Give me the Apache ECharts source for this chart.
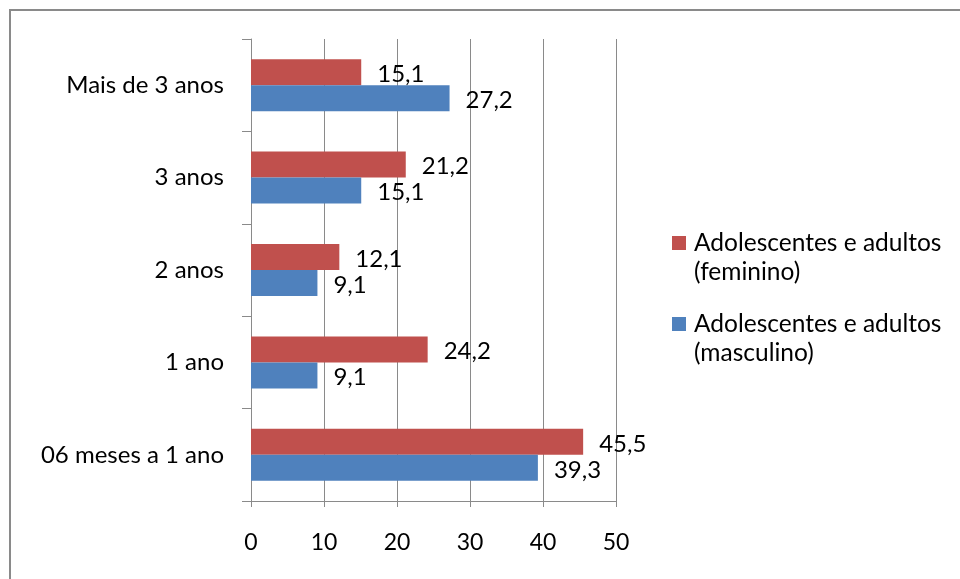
<!DOCTYPE html>
<html>
<head>
<meta charset="utf-8">
<title>Tempo por faixa</title>
<script src="https://cdn.jsdelivr.net/npm/echarts@6/dist/echarts.min.js"></script>
<style>
  html, body { margin: 0; padding: 0; background: #fff; }
  #chart { width: 960px; height: 579px; }
</style>
</head>
<body>
<div id="chart"></div>
<script>
// Categories, bottom to top
const categories = ['06 meses a 1 ano', '1 ano', '2 anos', '3 anos', 'Mais de 3 anos'];
const seriesNames = ['Adolescentes e adultos (feminino)', 'Adolescentes e adultos (masculino)'];
const feminino = [45.5, 24.2, 12.1, 21.2, 15.1];
const masculino = [39.3, 9.1, 9.1, 15.1, 27.2];
const xTicks = [0, 10, 20, 30, 40, 50];

const FONT = 'Lato';
const GRID_COLOR = '#8a8a8a';

const chart = echarts.init(document.getElementById('chart'), null, { renderer: 'canvas' });

const decimalComma = v => String(v).replace('.', ',');

function legendBlock(name, top) {
  return {
    data: [name],
    left: 672,
    top: top,
    orient: 'vertical',
    padding: 0,
    itemWidth: 14,
    itemHeight: 14,
    icon: 'rect',
    // blank first line keeps the swatch level with the first text line
    formatter: n => '\n' + n.replace(' (', '\n('),
    textStyle: {
      fontFamily: FONT,
      fontSize: 24.5,
      lineHeight: 29,
      color: '#000',
      padding: [0, 0, 0, 3]
    }
  };
}

const labelCfg = {
  show: true,
  position: 'right',
  distance: 16,
  offset: [0, 2],
  fontFamily: FONT,
  fontSize: 24,
  color: '#000',
  formatter: p => decimalComma(p.value)
};

chart.setOption({
  animation: false,
  backgroundColor: '#fff',
  graphic: [{
    type: 'rect',
    shape: { x: 10, y: 10, width: 1000, height: 1000 },
    style: { fill: 'none', stroke: GRID_COLOR, lineWidth: 2 },
    silent: true
  }],
  legend: [
    legendBlock(seriesNames[0], 199.5),
    legendBlock(seriesNames[1], 280.5)
  ],
  grid: { left: 251, top: 39, right: 344, bottom: 78 },
  xAxis: {
    type: 'value',
    min: xTicks[0],
    max: xTicks[xTicks.length - 1],
    interval: xTicks[1] - xTicks[0],
    axisLine: { show: true, lineStyle: { color: GRID_COLOR, width: 1 } },
    axisTick: { show: true, length: 6, lineStyle: { color: GRID_COLOR } },
    splitLine: { show: true, lineStyle: { color: GRID_COLOR, width: 1 } },
    axisLabel: { fontFamily: FONT, fontSize: 23, color: '#000', margin: 30 }
  },
  yAxis: {
    type: 'category',
    data: categories,
    axisLine: { show: true, lineStyle: { color: GRID_COLOR, width: 1 } },
    axisTick: { show: true, length: 9, lineStyle: { color: GRID_COLOR } },
    axisLabel: { fontFamily: FONT, fontSize: 24, color: '#000', margin: 27 }
  },
  series: [
    {
      name: seriesNames[0],
      type: 'bar',
      data: feminino,
      barWidth: 26,
      barGap: '0%',
      itemStyle: { color: '#C0504D' },
      label: labelCfg
    },
    {
      name: seriesNames[1],
      type: 'bar',
      data: masculino,
      barWidth: 26,
      barGap: '0%',
      itemStyle: { color: '#4F81BD' },
      label: labelCfg
    }
  ]
});
</script>
</body>
</html>
